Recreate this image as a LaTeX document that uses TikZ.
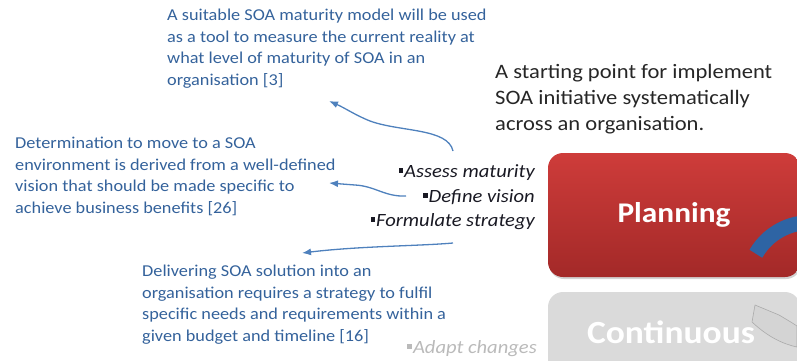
\documentclass[tikz,border=0pt]{standalone}
\usepackage{fontspec}
\setmainfont[FakeStretch=1.1]{Carlito}
\usetikzlibrary{shadows,arrows.meta}
\definecolor{noteblue}{RGB}{52,98,155}
\definecolor{arrowblue}{RGB}{79,129,189}
\definecolor{plantop}{RGB}{206,60,58}
\definecolor{planbot}{RGB}{163,41,40}
\definecolor{contgrey}{RGB}{218,218,218}
\definecolor{cyclearc}{RGB}{46,100,164}
\definecolor{itemtext}{RGB}{25,25,35}
\newcommand\sqbullet{\rule[0.22em]{0.24em}{0.24em}\kern0.06em}
\begin{document}
\begin{tikzpicture}[x=1pt,y=-1pt,
  note/.style={anchor=base west, align=left, inner sep=0pt, text=noteblue,
    font=\fontsize{16.6}{21.4}\selectfont},
  headline/.style={anchor=base west, align=left, inner sep=0pt, text=black!85,
    font=\fontsize{20.5}{26}\selectfont},
  item/.style={anchor=base east, inner sep=0pt, text=itemtext,
    font=\fontsize{18.7}{20}\selectfont\itshape},
  stagebox/.style={rounded corners=15pt, minimum width=252pt, minimum height=124pt,
    inner sep=0pt, drop shadow={shadow xshift=1pt, shadow yshift=-2pt, opacity=0.35}},
  link/.style={draw=arrowblue, line width=1.3pt, -{Latex[length=9pt,width=7pt]}}
]
\useasboundingbox (0,0) rectangle (797,360);

% explanatory notes (anchored at the baseline of their last line)
\node[note] (maturitynote) at (167,85) {A suitable SOA maturity model will be used\\
  as a tool to measure the current reality at\\
  what level of maturity of SOA in an\\
  organisation [3]};
\node[note] (visionnote) at (15,213) {Determination to move to a SOA\\
  environment is derived from a well-defined\\
  vision that should be made specific to\\
  achieve business benefits [26]};
\node[note] (strategynote) at (142,341) {Delivering SOA solution into an\\
  organisation requires a strategy to fulfil\\
  specific needs and requirements within a\\
  given budget and timeline [16]};

% phase summary
\node[headline] (summary) at (495,130) {A starting point for implement\\
  SOA initiative systematically\\
  across an organisation.};

% phase activities
\node[item] (assess) at (535,177) {\sqbullet Assess maturity};
\node[item] (define) at (535,202) {\sqbullet Define vision};
\node[item] (formulate) at (535,226) {\sqbullet Formulate strategy};
\node[item, text=black!27] (adapt) at (537,353) {\sqbullet Adapt changes};

% stage boxes
\node[stagebox, fill=contgrey] (continuous) at (674,354) {};
\filldraw[fill={rgb,255:red,212;green,212;blue,212}, draw={rgb,255:red,170;green,170;blue,170}, line width=0.6pt]
  (755,305) -- (752,322) .. controls (768,337) and (783,344) .. (797,347)
  -- (797,326) .. controls (791,322) and (784,318) .. (779,315) -- cycle;
\node[text=white, font=\fontsize{32.3}{36}\selectfont\bfseries, anchor=base, inner sep=0pt]
  (contlabel) at (671,343) {Continuous};

\node[stagebox, top color=plantop, bottom color=planbot,
  text=white, font=\fontsize{28.5}{34}\selectfont\bfseries] (planning) at (674,215) {Planning};
\coordinate (cyclecentre) at (810,285);
\draw[cyclearc, line width=15pt] (cyclecentre) ++(210:62.5) arc (210:285:62.5);

% links from activities to notes
\coordinate (assessstart) at (453,151);
\coordinate (maturityend) at (329,101);
\coordinate (definestart) at (406,196);
\coordinate (visionend) at (329,183);
\coordinate (formulatestart) at (453,243);
\coordinate (strategyend) at (302,253);
\draw[link] (assessstart) .. controls (448,128) and (400,132) .. (370,121)
  .. controls (355,115) and (345,108) .. (maturityend);
\draw[link] (definestart) .. controls (385,197) and (375,186) .. (355,185) -- (visionend);
\draw[link] (formulatestart) .. controls (420,246) and (360,246) .. (strategyend);
\end{tikzpicture}
\end{document}
